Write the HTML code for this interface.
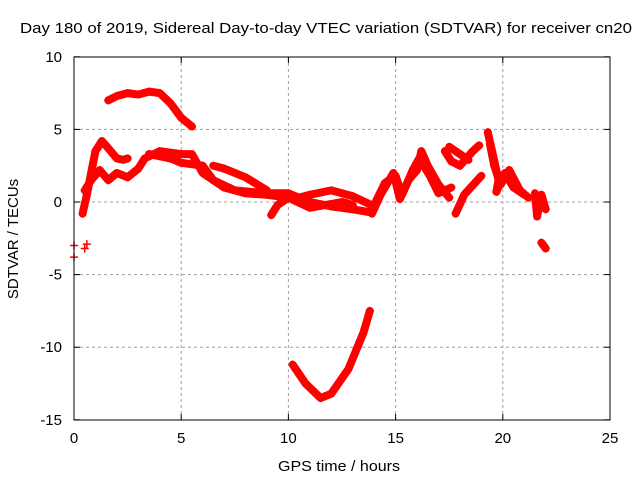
<!DOCTYPE html>
<html><head><meta charset="utf-8"><style>
body{margin:0;background:#fff}
svg{font-family:"Liberation Sans",sans-serif;font-size:15px}
</style></head><body>
<svg id="c" width="640" height="480">
<text x="20" y="33" textLength="612" lengthAdjust="spacingAndGlyphs">Day 180 of 2019, Sidereal Day-to-day VTEC variation (SDTVAR) for receiver cn20</text>
<text x="278" y="471" textLength="122" lengthAdjust="spacingAndGlyphs">GPS time / hours</text>
<text transform="translate(18,239) rotate(-90)" text-anchor="middle">SDTVAR / TECUs</text>
<g id="grid"></g><g id="ticks"></g><g id="marks"></g>
<rect x="74" y="57" width="536" height="363" fill="none" stroke="#000"/>
</svg>
<script>
const xTicks=[0,5,10,15,20,25];
const yTicks=[10,5,0,-5,-10,-15];
const trackA_t=[1.6,2,2.5,3,3.5,4,4.5,5,5.5];
const trackA_v=[7.0,7.3,7.5,7.4,7.6,7.5,6.8,5.8,5.2];
const trackB_t=[0.4,0.6,0.8,1,1.3,1.6,2,2.3,2.5];
const trackB_v=[-0.8,0.5,2,3.5,4.2,3.7,3.0,2.9,3.0];
const trackC_t=[0.5,0.8,1.2,1.6,2,2.5,3,3.3,4,5,5.5,6,7,8,9,10,11,12,13,13.8];
const trackC_v=[0.8,1.5,2.2,1.5,2.0,1.7,2.3,3.0,3.5,3.3,3.3,2.0,1.0,0.6,0.5,0.3,0.0,-0.3,-0.5,-0.7];
const trackD_t=[3.5,4.5,5,6,6.5,7.5,9,10,10.5,11,12,13,14];
const trackD_v=[3.3,3.0,2.7,2.5,1.5,0.8,0.6,0.6,0.3,0.5,0.8,0.4,-0.3];
const trackE_t=[6.5,7,8,9];
const trackE_v=[2.5,2.3,1.7,0.8];
const trackF_t=[9.2,9.5,10,11,12.5,13];
const trackF_v=[-0.9,-0.2,0.3,-0.4,0,-0.2];
const trackG_t=[10.2,10.8,11.5,12,12.8,13.5,13.8];
const trackG_v=[-11.2,-12.5,-13.5,-13.2,-11.5,-9.0,-7.5];
const trackH_t=[13.9,14.3,14.9,15.2,15.6,16,16.2,16.5,17,17.5];
const trackH_v=[-0.8,0.5,2.0,0.2,1.5,2.2,3.5,2.5,1.2,0.3];
const trackH2_t=[14,14.5,15,15.3,15.8,16.1,16.6,17,17.6];
const trackH2_v=[-0.2,1.3,1.8,0.5,2.2,3.0,1.8,0.6,1.0];
const trackI_t=[17.3,17.6,18,18.6,18.9];
const trackI_v=[3.5,2.8,2.5,3.5,3.9];
const trackI2_t=[17.5,18,18.4];
const trackI2_v=[3.8,3.3,2.9];
const trackJ_t=[17.8,18.2,19];
const trackJ_v=[-0.8,0.5,1.8];
const trackK_t=[19.3,19.5,19.8,19.7,20.1,20.5,21];
const trackK_v=[4.8,3.5,1.5,0.7,2.0,1.0,0.5];
const trackK2_t=[19.4,19.6,19.9,20.3,20.8,21.2];
const trackK2_v=[4.0,2.5,1.2,2.2,0.8,0.3];
const trackL_t=[21.5,21.6,21.8,22];
const trackL_v=[0.6,-1.0,0.5,-0.5];
const trackM_t=[21.8,22];
const trackM_v=[-2.8,-3.2];
const trackN_t=[0,0,0.5,0.6];
const trackN_v=[-3,-3.8,-3.2,-2.9];
const tracks=[[trackA_t,trackA_v],[trackB_t,trackB_v],[trackC_t,trackC_v],[trackD_t,trackD_v],[trackE_t,trackE_v],[trackF_t,trackF_v],[trackG_t,trackG_v],[trackH_t,trackH_v],[trackH2_t,trackH2_v],[trackI_t,trackI_v],[trackI2_t,trackI2_v],[trackJ_t,trackJ_v],[trackK_t,trackK_v],[trackK2_t,trackK2_v],[trackL_t,trackL_v],[trackM_t,trackM_v]];
const X=t=>74+t*536/25, Y=v=>202-v*363/25;
const NS="http://www.w3.org/2000/svg";
function mk(tag,p,parent){const e=document.createElementNS(NS,tag);for(const k in p)e.setAttribute(k,p[k]);document.getElementById(parent).appendChild(e);return e;}
xTicks.forEach(t=>{
 if(t>0&&t<25){const g=mk('line',{x1:X(t),x2:X(t),y1:57,y2:420,stroke:'#a0a0a0','stroke-dasharray':'3,3'},'grid');
 
 }
 const l=mk('text',{x:X(t),y:443,'text-anchor':'middle'},'ticks');l.textContent=t;
 
 
 mk('line',{x1:X(t),x2:X(t),y1:420,y2:414,stroke:'#000'},'ticks');
 mk('line',{x1:X(t),x2:X(t),y1:57,y2:63,stroke:'#000'},'ticks');
});
yTicks.forEach(v=>{
 if(v>-15&&v<10){const g=mk('line',{x1:74,x2:610,y1:Y(v),y2:Y(v),stroke:'#a0a0a0','stroke-dasharray':'3,3'},'grid');
 
 }
 const l=mk('text',{x:62,y:Y(v)+5,'text-anchor':'end'},'ticks');l.textContent=v;
 
 
 mk('line',{x1:74,x2:80,y1:Y(v),y2:Y(v),stroke:'#000'},'ticks');
 mk('line',{x1:604,x2:610,y1:Y(v),y2:Y(v),stroke:'#000'},'ticks');
});
function plus(t,v){const x=X(t),y=Y(v);const p=mk('path',{d:`M${x-4} ${y}h8M${x} ${y-4}v8`,stroke:'#f00','stroke-width':1.5},'marks');
 
 }
tracks.forEach(([ts,vs])=>{
 const pl=mk('polyline',{points:ts.map((t,i)=>X(t)+','+Y(vs[i])).join(' '),fill:'none',stroke:'#f00','stroke-width':8,'stroke-linejoin':'round','stroke-linecap':'round'},'marks');
 
 
 ts.forEach((t,i)=>plus(t,vs[i]));
});
trackN_t.forEach((t,i)=>plus(t,trackN_v[i]));
</script>
</body></html>
